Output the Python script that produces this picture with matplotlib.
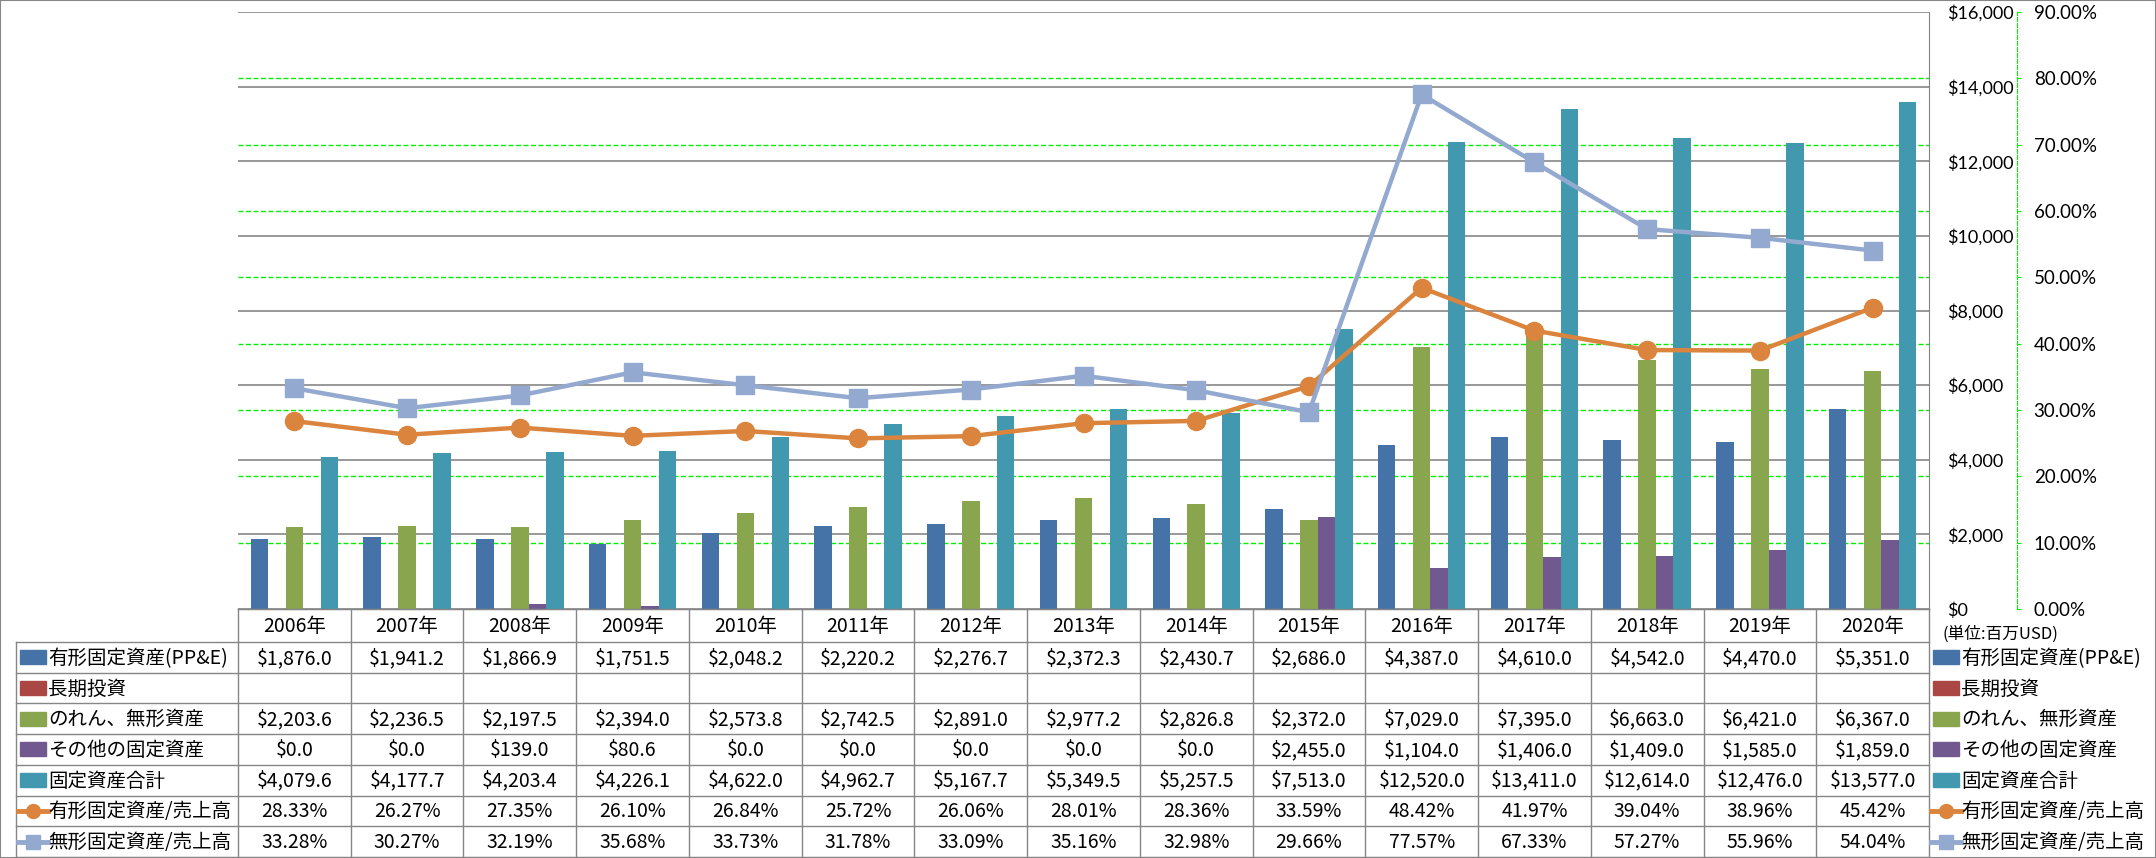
import matplotlib
matplotlib.use('Agg')
import matplotlib.pyplot as plt
import numpy as np
from matplotlib.lines import Line2D
from matplotlib.patches import Rectangle
from matplotlib.ticker import FuncFormatter

plt.rcParams['font.family'] = ['Noto Sans CJK JP', 'DejaVu Sans']

years = ['2006年', '2007年', '2008年', '2009年', '2010年', '2011年', '2012年', '2013年',
         '2014年', '2015年', '2016年', '2017年', '2018年', '2019年', '2020年']
ppe = [1876.0, 1941.2, 1866.9, 1751.5, 2048.2, 2220.2, 2276.7, 2372.3, 2430.7, 2686.0,
       4387.0, 4610.0, 4542.0, 4470.0, 5351.0]
lt_invest = [None] * 15
goodwill = [2203.6, 2236.5, 2197.5, 2394.0, 2573.8, 2742.5, 2891.0, 2977.2, 2826.8, 2372.0,
            7029.0, 7395.0, 6663.0, 6421.0, 6367.0]
other = [0.0, 0.0, 139.0, 80.6, 0.0, 0.0, 0.0, 0.0, 0.0, 2455.0,
         1104.0, 1406.0, 1409.0, 1585.0, 1859.0]
total = [4079.6, 4177.7, 4203.4, 4226.1, 4622.0, 4962.7, 5167.7, 5349.5, 5257.5, 7513.0,
         12520.0, 13411.0, 12614.0, 12476.0, 13577.0]
ppe_ratio = [28.33, 26.27, 27.35, 26.10, 26.84, 25.72, 26.06, 28.01, 28.36, 33.59,
             48.42, 41.97, 39.04, 38.96, 45.42]
intan_ratio = [33.28, 30.27, 32.19, 35.68, 33.73, 31.78, 33.09, 35.16, 32.98, 29.66,
               77.57, 67.33, 57.27, 55.96, 54.04]

bar_names = ['有形固定資産(PP&E)', '長期投資', 'のれん、無形資産', 'その他の固定資産', '固定資産合計']
bar_colors = ['#4572A7', '#AA4643', '#89A54E', '#71588F', '#4198AF']
bar_data = [ppe, lt_invest, goodwill, other, total]
line_names = ['有形固定資産/売上高', '無形固定資産/売上高']
line_colors = ['#DB843D', '#93A9CF']
line_markers = ['o', 's']
line_data = [ppe_ratio, intan_ratio]

W, H = 2156, 858
fig = plt.figure(figsize=(W / 100, H / 100), dpi=100)
gray = '#868686'
green = '#00F000'

# plot area (pixels)
pl, pr, pt, pb = 238, 1929, 12, 609
ax = fig.add_axes([pl / W, 1 - pb / H, (pr - pl) / W, (pb - pt) / H])
usd_max, pct_max = 16000, 0.9
x = np.arange(len(years))
bw = 0.155
for k, (vals, col) in enumerate(zip(bar_data, bar_colors)):
    idx = [i for i, v in enumerate(vals) if v is not None]
    if idx:
        ax.bar(x[idx] + (k - 2) * bw, [vals[i] for i in idx], bw, color=col, zorder=2)

ax.set_xlim(-0.5, len(years) - 0.5)
ax.set_ylim(0, usd_max)
ax.set_yticks(np.arange(0, usd_max + 1, 2000))
ax.set_xticks([])
ax.grid(axis='y', color=gray, lw=1.2, zorder=0)
ax.set_axisbelow(True)
pct_ticks = np.arange(10) / 10
# secondary (green dashed) gridlines, drawn behind the bars
for p in pct_ticks[1:-1]:
    ax.axhline(p / pct_max * usd_max, color=green, lw=1, ls=(0, (3.6, 1.8)), zorder=1)
for s in ['top', 'left']:
    ax.spines[s].set_visible(False)
ax.spines['right'].set_color(gray)
ax.spines['bottom'].set_color(gray)

ax2 = ax.twinx()
# twinx moves the primary ticks to the left; put them back on the right
ax.yaxis.tick_right()
ax.yaxis.set_label_position('right')
ax.yaxis.set_major_formatter(FuncFormatter(lambda v, p: f'${v:,.0f}'))
ax.tick_params(axis='y', length=0, pad=13, labelsize=13, labelfontfamily='Lato')

ax2.set_ylim(0, pct_max)
ax2.set_yticks(pct_ticks)
ax2.yaxis.set_major_formatter(FuncFormatter(lambda v, p: f'{v * 100:.2f}%'))
for s in ['top', 'left', 'bottom']:
    ax2.spines[s].set_visible(False)
ax2.spines['right'].set_position(('axes', 1 + 88 / (pr - pl)))
ax2.spines['right'].set_color(green)
ax2.spines['right'].set_linestyle((0, (3.6, 1.8)))
ax2.tick_params(axis='y', direction='out', length=3, color=green, pad=9,
                labelsize=13.5, labelfontfamily='Lato')
for vals, col, mk in zip(line_data, line_colors, line_markers):
    ax2.plot(x, np.array(vals) / 100, color=col, lw=3.2, marker=mk, ms=13,
             mfc=col, mec=col, zorder=3)

# ---- data table below the plot ----
def fx(v):
    return v / W

def fy(v):
    return 1 - v / H

def hline(x0, x1, y):
    fig.add_artist(Line2D([fx(x0), fx(x1)], [fy(y), fy(y)], transform=fig.transFigure,
                          color=gray, lw=1))

def vline(xp, y0, y1):
    fig.add_artist(Line2D([fx(xp), fx(xp)], [fy(y0), fy(y1)], transform=fig.transFigure,
                          color=gray, lw=1))

cw = (pr - pl) / len(years)
rh = 30.7
edges = [pb, 642] + [642 + rh * (i + 1) for i in range(7)]
lab_l = 16
for i, y in enumerate(edges):
    hline(lab_l if i > 0 else pl, pr, y)
for i in range(len(years) + 1):
    vline(pl + i * cw, edges[0], edges[-1])
vline(lab_l, edges[1], edges[-1])

fs = 14
hdr_y = (edges[0] + edges[1]) / 2 + 1
for i, yr in enumerate(years):
    fig.text(fx(pl + (i + 0.5) * cw), fy(hdr_y), yr, ha='center', va='center', fontsize=fs)

rows = []
for vals in bar_data:
    rows.append(['' if v is None else f'${v:,.1f}' for v in vals])
for vals in line_data:
    rows.append([f'{v:.2f}%' for v in vals])
names = bar_names + line_names


def legend_symbol(x0, yc, r):
    if r < len(bar_names):
        fig.add_artist(Rectangle((fx(x0), fy(yc + 7)), 26 / W, 14 / H,
                                 transform=fig.transFigure, color=bar_colors[r]))
    else:
        j = r - len(bar_names)
        fig.add_artist(Line2D([fx(x0 - 2), fx(x0 + 13), fx(x0 + 28)], [fy(yc)] * 3,
                              transform=fig.transFigure, color=line_colors[j], lw=3.5,
                              marker=line_markers[j], ms=10, markevery=[1],
                              mfc=line_colors[j], mec=line_colors[j]))


for r, (name, cells) in enumerate(zip(names, rows)):
    yc = (edges[r + 1] + edges[r + 2]) / 2
    legend_symbol(20, yc, r)
    fig.text(fx(48), fy(yc + 1), name, ha='left', va='center', fontsize=fs)
    legend_symbol(1933, yc, r)
    fig.text(fx(1961), fy(yc + 1), name, ha='left', va='center', fontsize=fs)
    for i, c in enumerate(cells):
        fig.text(fx(pl + (i + 0.5) * cw), fy(yc + 1), c, ha='center', va='center', fontsize=fs)

fig.text(fx(1943), fy(634), '(単位:百万USD)', ha='left', va='center', fontsize=12)

fig.add_artist(Rectangle((0, 0), 1, 1, transform=fig.transFigure, fill=False,
                         edgecolor=gray, lw=1.5))

fig.savefig('out.png', dpi=100)
